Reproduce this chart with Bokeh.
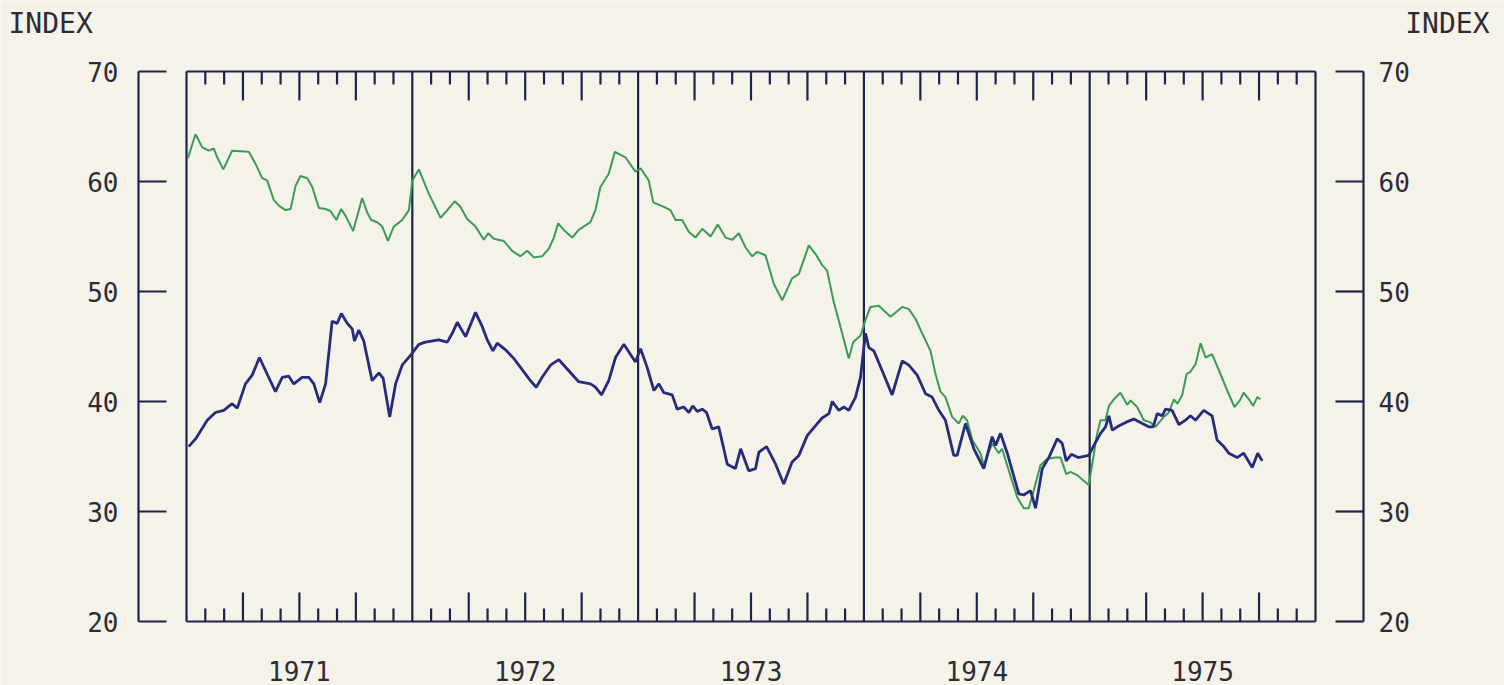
from bokeh.plotting import figure
from bokeh.models import Range1d
from bokeh.core.properties import value
from bokeh.embed import file_html
from bokeh.resources import INLINE

# ---------------- data ----------------
years = [1971, 1972, 1973, 1974, 1975]
year_labels = ["1971", "1972", "1973", "1974", "1975"]
y_ticks = [20, 30, 40, 50, 60, 70]
y_tick_labels = ["20", "30", "40", "50", "60", "70"]
axis_title = "INDEX"

green_t = [1971.006, 1971.040, 1971.070, 1971.099, 1971.121, 1971.136, 1971.163, 1971.202, 1971.276, 1971.306,
           1971.335, 1971.357, 1971.387, 1971.409, 1971.438, 1971.461, 1971.483, 1971.505, 1971.535, 1971.557,
           1971.586, 1971.616, 1971.638, 1971.664, 1971.685, 1971.704, 1971.738, 1971.778, 1971.800, 1971.818,
           1971.845, 1971.867, 1971.892, 1971.918, 1971.955, 1971.985, 1972.000, 1972.029, 1972.073, 1972.125,
           1972.155, 1972.188, 1972.213, 1972.243, 1972.280, 1972.317, 1972.336, 1972.361, 1972.405, 1972.442,
           1972.479, 1972.509, 1972.538, 1972.575, 1972.605, 1972.627, 1972.646, 1972.671, 1972.708, 1972.737,
           1972.789, 1972.811, 1972.833, 1972.870, 1972.897, 1972.944, 1972.988, 1973.011, 1973.047, 1973.067,
           1973.114, 1973.143, 1973.166, 1973.195, 1973.225, 1973.254, 1973.284, 1973.321, 1973.353, 1973.387,
           1973.417, 1973.446, 1973.476, 1973.505, 1973.527, 1973.564, 1973.601, 1973.638, 1973.682, 1973.712,
           1973.756, 1973.786, 1973.815, 1973.837, 1973.867, 1973.896, 1973.933, 1973.953, 1973.985, 1974.007,
           1974.029, 1974.066, 1974.118, 1974.170, 1974.199, 1974.229, 1974.258, 1974.295, 1974.317, 1974.339,
           1974.361, 1974.391, 1974.420, 1974.438, 1974.457, 1974.480, 1974.516, 1974.531, 1974.568, 1974.597,
           1974.612, 1974.642, 1974.679, 1974.708, 1974.730, 1974.752, 1974.782, 1974.812, 1974.848, 1974.871,
           1974.896, 1974.915, 1974.945, 1974.996, 1975.011, 1975.033, 1975.048, 1975.070, 1975.085, 1975.107,
           1975.136, 1975.166, 1975.181, 1975.210, 1975.240, 1975.269, 1975.291, 1975.328, 1975.350, 1975.373,
           1975.388, 1975.410, 1975.429, 1975.446, 1975.469, 1975.491, 1975.513, 1975.542, 1975.579, 1975.609,
           1975.641, 1975.665, 1975.682, 1975.705, 1975.724, 1975.742, 1975.756]
green_v = [62.1, 64.3, 63.1, 62.8, 63.0, 62.2, 61.1, 62.8, 62.7, 61.6,
           60.3, 60.1, 58.3, 57.8, 57.4, 57.5, 59.6, 60.5, 60.3, 59.5,
           57.6, 57.5, 57.3, 56.5, 57.5, 56.9, 55.5, 58.5, 57.2, 56.5,
           56.3, 55.9, 54.6, 55.9, 56.5, 57.4, 60.1, 61.1, 58.9, 56.7,
           57.4, 58.2, 57.7, 56.6, 55.9, 54.7, 55.3, 54.8, 54.6, 53.7,
           53.2, 53.7, 53.1, 53.2, 53.9, 54.9, 56.2, 55.6, 54.9, 55.6,
           56.3, 57.4, 59.5, 60.7, 62.7, 62.2, 60.9, 61.2, 60.1, 58.1,
           57.7, 57.4, 56.5, 56.5, 55.4, 54.9, 55.7, 55.0, 56.1, 54.9,
           54.7, 55.3, 54.0, 53.2, 53.6, 53.3, 50.7, 49.2, 51.2, 51.6,
           54.2, 53.4, 52.4, 51.9, 49.0, 46.8, 43.9, 45.4, 46.0, 47.4,
           48.6, 48.7, 47.7, 48.6, 48.4, 47.5, 46.2, 44.6, 42.5, 40.9,
           40.4, 38.6, 38.0, 38.7, 38.3, 36.5, 35.3, 34.2, 36.2, 35.3,
           35.7, 33.7, 31.3, 30.3, 30.3, 31.9, 34.2, 34.8, 34.9, 34.9,
           33.4, 33.6, 33.3, 32.4, 34.3, 37.1, 38.3, 38.3, 39.6, 40.2,
           40.8, 39.7, 40.1, 39.5, 38.3, 38.1, 37.7, 38.6, 39.0, 40.2,
           39.8, 40.6, 42.5, 42.7, 43.4, 45.3, 44.0, 44.3, 42.5, 41.0,
           39.5, 40.1, 40.8, 40.2, 39.6, 40.4, 40.2]

blue_t = [1971.010, 1971.040, 1971.092, 1971.128, 1971.165, 1971.202, 1971.225, 1971.261, 1971.291, 1971.323,
          1971.357, 1971.394, 1971.424, 1971.453, 1971.475, 1971.512, 1971.542, 1971.564, 1971.590, 1971.616,
          1971.645, 1971.667, 1971.686, 1971.712, 1971.734, 1971.744, 1971.763, 1971.785, 1971.822, 1971.852,
          1971.871, 1971.900, 1971.926, 1971.955, 1971.992, 1972.029, 1972.058, 1972.117, 1972.155, 1972.177,
          1972.199, 1972.236, 1972.280, 1972.310, 1972.332, 1972.357, 1972.376, 1972.413, 1972.450, 1972.494,
          1972.523, 1972.549, 1972.575, 1972.612, 1972.649, 1972.693, 1972.737, 1972.789, 1972.811, 1972.838,
          1972.870, 1972.900, 1972.937, 1972.988, 1973.011, 1973.040, 1973.070, 1973.092, 1973.114, 1973.151,
          1973.173, 1973.202, 1973.225, 1973.242, 1973.262, 1973.284, 1973.303, 1973.328, 1973.357, 1973.395,
          1973.431, 1973.454, 1973.490, 1973.520, 1973.535, 1973.569, 1973.609, 1973.645, 1973.682, 1973.712,
          1973.749, 1973.786, 1973.815, 1973.845, 1973.860, 1973.889, 1973.911, 1973.933, 1973.963, 1973.985,
          1974.007, 1974.022, 1974.044, 1974.081, 1974.125, 1974.170, 1974.199, 1974.236, 1974.273, 1974.302,
          1974.332, 1974.361, 1974.398, 1974.413, 1974.450, 1974.487, 1974.531, 1974.568, 1974.583, 1974.605,
          1974.635, 1974.686, 1974.708, 1974.738, 1974.760, 1974.790, 1974.819, 1974.856, 1974.878, 1974.896,
          1974.919, 1974.949, 1974.996, 1975.026, 1975.048, 1975.070, 1975.085, 1975.100, 1975.122, 1975.159,
          1975.195, 1975.233, 1975.262, 1975.281, 1975.299, 1975.321, 1975.336, 1975.365, 1975.395, 1975.424,
          1975.446, 1975.469, 1975.505, 1975.542, 1975.564, 1975.594, 1975.616, 1975.653, 1975.682, 1975.720,
          1975.744, 1975.764]
blue_v = [35.9, 36.6, 38.3, 39.0, 39.2, 39.8, 39.4, 41.6, 42.4, 44.0,
          42.5, 40.9, 42.2, 42.3, 41.6, 42.2, 42.2, 41.6, 39.9, 41.6,
          47.3, 47.1, 48.0, 47.1, 46.6, 45.5, 46.5, 45.5, 41.9, 42.6,
          42.1, 38.6, 41.6, 43.3, 44.2, 45.2, 45.4, 45.6, 45.4, 46.2,
          47.2, 45.9, 48.1, 46.8, 45.6, 44.6, 45.3, 44.7, 43.9, 42.7,
          41.9, 41.3, 42.2, 43.3, 43.8, 42.8, 41.8, 41.6, 41.3, 40.6,
          41.9, 44.0, 45.2, 43.6, 44.8, 43.1, 41.0, 41.6, 40.8, 40.6,
          39.3, 39.5, 39.0, 39.6, 39.1, 39.3, 39.0, 37.5, 37.7, 34.3,
          33.9, 35.7, 33.7, 33.9, 35.4, 35.9, 34.3, 32.5, 34.5, 35.1,
          36.9, 37.8, 38.5, 38.9, 40.0, 39.2, 39.5, 39.2, 40.4, 42.2,
          46.2, 44.9, 44.6, 42.8, 40.6, 43.7, 43.3, 42.4, 40.7, 40.4,
          39.2, 38.3, 35.1, 35.1, 38.0, 35.7, 33.9, 36.8, 36.0, 37.1,
          35.3, 31.6, 31.5, 31.9, 30.3, 33.9, 34.9, 36.6, 36.2, 34.6,
          35.2, 34.9, 35.1, 36.3, 37.1, 37.7, 38.7, 37.4, 37.7, 38.1,
          38.4, 38.0, 37.7, 37.7, 38.9, 38.7, 39.3, 39.2, 37.9, 38.3,
          38.7, 38.3, 39.2, 38.7, 36.5, 35.9, 35.3, 34.9, 35.3, 34.0,
          35.3, 34.6]

# ---------------- style / layout ----------------
BG = "#f4f2e9"
GREEN = "#3b9b55"
BLUE = "#262c7a"
FRAME = "#1e2449"
TXT = "#2c2c36"
FONT = "DejaVu Sans Mono"

W, H = 1504, 685
BOX_L, BOX_R = 186, 1315        # px of start / end of the time box
BOX_T, BOX_B = 71, 621          # px of top / bottom value
x0, x1 = years[0], years[-1] + 1
ymin, ymax = y_ticks[0], y_ticks[-1]
ppy = (BOX_R - BOX_L) / (x1 - x0)      # px per year
ppu = (BOX_B - BOX_T) / (ymax - ymin)  # px per index unit
xs = x0 - BOX_L / ppy
xe = x1 + (W - BOX_R) / ppy
ys = ymin - (H - BOX_B) / ppu
ye = ymax + BOX_T / ppu

def dx(px):   # horizontal pixel offset -> data units
    return px / ppy

def dy(px):   # vertical pixel offset -> data units
    return px / ppu

p = figure(width=W, height=H, x_range=Range1d(xs, xe), y_range=Range1d(ys, ye),
           output_backend="svg", toolbar_location=None,
           x_axis_type=None, y_axis_type=None,
           min_border=0, min_border_left=0, min_border_right=0, min_border_top=0, min_border_bottom=0,
           background_fill_color=BG, border_fill_color=BG, outline_line_color=None)

LW = 2.2

# ---- time box: year boundaries, top & bottom edges
bounds = years + [x1]
p.segment(x0=bounds, y0=[ymin] * len(bounds), x1=bounds, y1=[ymax] * len(bounds),
          line_color=FRAME, line_width=LW)
p.segment(x0=[x0, x0], y0=[ymin, ymax], x1=[x1, x1], y1=[ymin, ymax],
          line_color=FRAME, line_width=LW)

# ---- month ticks (long at quarters), pointing inward at top and bottom
mt = [y + m / 12 for y in years for m in range(1, 12)]
mlen = [dy(29) if (i % 11 + 1) % 3 == 0 else dy(13) for i in range(len(mt))]
p.segment(x0=mt, y0=[ymin] * len(mt), x1=mt, y1=[ymin + L for L in mlen],
          line_color=FRAME, line_width=LW)
p.segment(x0=mt, y0=[ymax] * len(mt), x1=mt, y1=[ymax - L for L in mlen],
          line_color=FRAME, line_width=LW)

# ---- value scales (brackets on both sides)
xl = x0 - dx(48)
xr = x1 + dx(48)
tick_len = dx(28)
p.segment(x0=[xl, xr], y0=[ymin, ymin], x1=[xl, xr], y1=[ymax, ymax], line_color=FRAME, line_width=LW)
p.segment(x0=[xl] * len(y_ticks), y0=y_ticks, x1=[xl + tick_len] * len(y_ticks), y1=y_ticks,
          line_color=FRAME, line_width=LW)
p.segment(x0=[xr] * len(y_ticks), y0=y_ticks, x1=[xr - tick_len] * len(y_ticks), y1=y_ticks,
          line_color=FRAME, line_width=LW)

p.text(x=[xl - dx(20)] * len(y_ticks), y=y_ticks, text=y_tick_labels, text_align="right",
       text_baseline="middle", text_font=value(FONT), text_font_size="26px", text_color=TXT)
p.text(x=[xr + dx(15)] * len(y_ticks), y=y_ticks, text=y_tick_labels, text_align="left",
       text_baseline="middle", text_font=value(FONT), text_font_size="26px", text_color=TXT)

# ---- series
p.line(green_t, green_v, line_color=GREEN, line_width=2.0)
p.line(blue_t, blue_v, line_color=BLUE, line_width=2.8)

# ---- year labels under each year
p.text(x=[y + 0.5 for y in years], y=[ymin - dy(49)] * len(years), text=year_labels,
       text_align="center", text_baseline="middle", text_font=value(FONT),
       text_font_size="26px", text_color=TXT)

# ---- axis titles
p.text(x=[xs + dx(8), xe - dx(15)], y=[ye - dy(22.5)] * 2, text=[axis_title, axis_title],
       text_align=["left", "right"], text_baseline="middle", text_font=value(FONT),
       text_font_size="28px", text_color=TXT)

open("out.html", "w").write(file_html(p, INLINE))
